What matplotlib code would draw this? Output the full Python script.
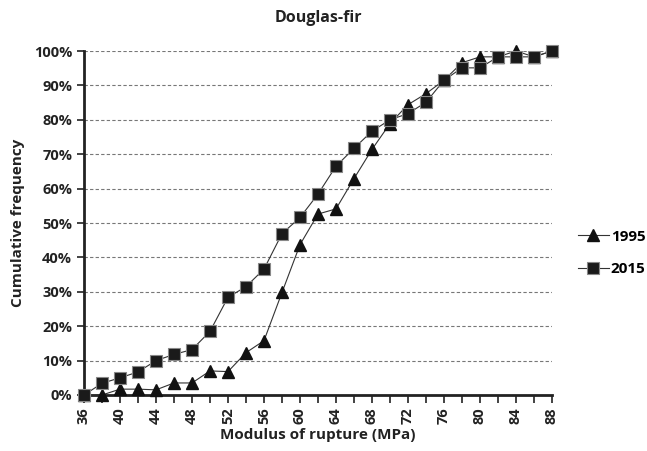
import matplotlib.pyplot as plt
from matplotlib.ticker import FuncFormatter, MultipleLocator

# Modulus of rupture classes (MPa)
mor = [36, 38, 40, 42, 44, 46, 48, 50, 52, 54, 56, 58, 60, 62, 64, 66,
       68, 70, 72, 74, 76, 78, 80, 82, 84, 86, 88]

# cumulative frequency (%)
freq_1995 = [0.0, 0.0, 1.7, 1.7, 1.5, 3.5, 3.5, 7.0, 6.8, 12.3, 15.8, 29.8,
             43.7, 52.6, 54.1, 62.9, 71.4, 78.9, 84.4, 87.6, 91.5, 96.6,
             98.3, 98.3, 100.0, 98.3, 100.0]
freq_2015 = [0.0, 3.4, 5.0, 6.7, 10.0, 11.8, 13.2, 18.5, 28.4, 31.5, 36.6,
             46.9, 51.6, 58.4, 66.5, 71.7, 76.7, 80.0, 81.8, 85.1, 91.5,
             95.1, 95.1, 98.3, 98.3, 98.3, 100.0]

plt.rcParams['font.family'] = ['Open Sans', 'DejaVu Sans']
plt.rcParams['font.weight'] = 'bold'

fig = plt.figure(figsize=(6.47, 4.51), dpi=100)
ax = fig.add_axes([84 / 647, 1 - 395 / 451, (552 - 84) / 647, (395 - 51) / 451])

l1, = ax.plot(mor, freq_1995, color='#333333', linewidth=0.8, marker='^',
              markersize=8, markerfacecolor='#111111', markeredgecolor='#111111',
              label='1995', zorder=3, clip_on=False)
l2, = ax.plot(mor, freq_2015, color='#333333', linewidth=0.8, marker='s',
              markersize=9, markerfacecolor='#1a1a1a', markeredgecolor='#888888',
              markeredgewidth=0.8, label='2015', zorder=4, clip_on=False)

ax.set_xlim(36, 88)
ax.set_ylim(0, 100)
ax.xaxis.set_major_locator(MultipleLocator(4))
ax.xaxis.set_minor_locator(MultipleLocator(2))
ax.yaxis.set_major_locator(MultipleLocator(10))
ax.yaxis.set_major_formatter(FuncFormatter(lambda v, p: f'{int(v)}%'))

ax.grid(axis='y', linestyle=(0, (3, 2)), color='#777777', linewidth=0.8)
ax.set_axisbelow(True)

for s in ['top', 'right']:
    ax.spines[s].set_visible(False)
for s in ['left', 'bottom']:
    ax.spines[s].set_linewidth(2)
    ax.spines[s].set_color('#222222')
ax.spines['left'].set_zorder(2)
ax.spines['bottom'].set_zorder(2)

ax.tick_params(axis='y', length=5, width=1.2, labelsize=10.5, colors='#222222')
ax.tick_params(axis='x', which='both', length=6, width=1.2, labelsize=10.5,
               colors='#222222', labelrotation=90, pad=3)

ax.set_xlabel('Modulus of rupture (MPa)', fontsize=11, fontweight='bold',
              labelpad=3, color='#222222')
ax.set_ylabel('Cumulative frequency', fontsize=11, fontweight='bold',
              labelpad=6, color='#222222')
fig.text(318 / 647, 1 - 18 / 451, 'Douglas-fir', ha='center', va='center',
         fontsize=11.5, fontweight='bold', color='#222222')

fig.legend(handles=[l1, l2], loc='center left',
           bbox_to_anchor=(578 / 647, 1 - 253 / 451), frameon=False,
           fontsize=11, handlelength=2.0, handletextpad=0.15, labelspacing=1.2,
           borderpad=0, borderaxespad=0)

plt.savefig('out.png', dpi=100)
